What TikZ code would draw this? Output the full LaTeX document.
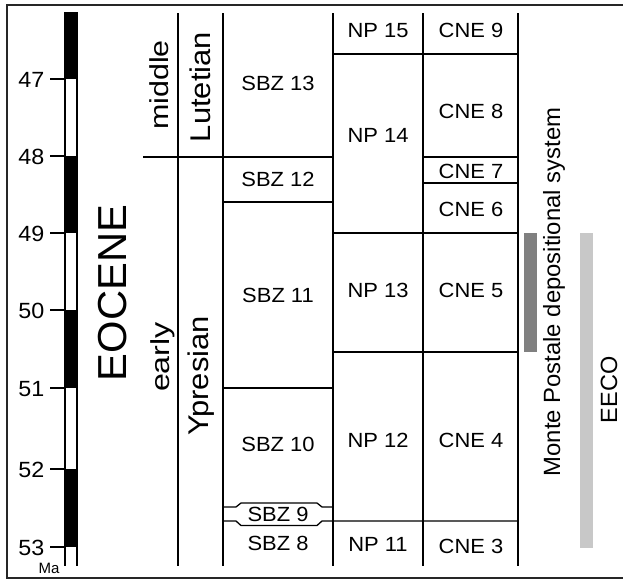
\documentclass[tikz,border=0pt]{standalone}
\usepackage{fontspec}
\setmainfont{Liberation Sans}
\definecolor{darkbar}{RGB}{128,128,128}
\definecolor{lightbar}{RGB}{200,200,200}
\newcommand\zstretch[2]{\scalebox{#1}[1]{#2}}
\begin{document}
\begin{tikzpicture}[x=1pt,y=-1pt,line width=1.3pt,
  zonelab/.style={font=\fontsize{20.5}{20.5}\selectfont,inner sep=0pt,anchor=base},
  numlab/.style={font=\fontsize{22}{22}\selectfont,inner sep=0pt,anchor=base east},
  rotlab/.style={rotate=90,inner sep=0pt,anchor=base},
  bigfont/.style={font=\fontsize{#1}{#1}\selectfont}]
\useasboundingbox (0,0) rectangle (623,581);
% frame
\draw[line width=1.8pt,black!85] (623,5) -- (7,5) -- (7,578) -- (623,578);
% polarity bar
\foreach \a/\b in {12/79,156/233,310/388,469/547} \fill (65,\a) rectangle (77,\b);
\draw (65,12) -- (65,566) (77,12) -- (77,566);
% ticks and ages
\foreach \yy/\t in {79/47,156/48,233/49,310/50,388/51,469/52,547/53}{
  \draw (50,\yy) -- (65,\yy);
  \node[numlab] (age\t) at (45,\yy+8) {\zstretch{1.06}{\t}};
}
\node[font=\fontsize{15}{15}\selectfont,inner sep=0pt,anchor=base] (ma) at (49,573) {Ma};
% column lines
\foreach \xx in {178,223,333,423,518} \draw (\xx,13) -- (\xx,566);
% horizontal boundaries
\draw (333,54) -- (518,54);
\draw (143,157) -- (333,157);
\draw (423,157) -- (518,157);
\draw (423,183) -- (518,183);
\draw (223,202) -- (333,202);
\draw (333,233) -- (518,233);
\draw (333,352) -- (518,352);
\draw (223,388) -- (333,388);
% SBZ 9 lozenge
\draw (223,507) -- (236,507) -- (241,503) -- (317,503) -- (322,507) -- (333,507);
\draw (223,521) -- (236,521) -- (241,525.5) -- (317,525.5) -- (322,521) -- (518,521);
% bars
\fill[darkbar] (524,233) rectangle (537,352);
\fill[lightbar] (580,233) rectangle (593,548);
% rotated labels
\node[rotlab,bigfont=40.5] (eocene) at (126,293) {\zstretch{1.03}{EOCENE}};
\node[rotlab,bigfont=26] (middle) at (168,85) {\zstretch{1.17}{middle}};
\node[rotlab,bigfont=26] (early) at (169,357) {\zstretch{1.24}{early}};
\node[rotlab,bigfont=28.5] (lutetian) at (210,87) {\zstretch{1.085}{Lutetian}};
\node[rotlab,bigfont=28.5] (ypresian) at (208,376) {\zstretch{1.085}{Ypresian}};
\node[rotlab,bigfont=23.5] (monte) at (560,292) {\zstretch{1.015}{Monte Postale depositional system}};
\node[rotlab,bigfont=23.5] (eeco) at (617,390) {EECO};
% zone labels (y = cap centre + 7.3)
\node[zonelab] (np15) at (378,37.3) {\zstretch{1.07}{NP 15}};
\node[zonelab] (cne9) at (471,37.3) {\zstretch{1.07}{CNE 9}};
\node[zonelab] (sbz13) at (278,90.8) {\zstretch{1.07}{SBZ 13}};
\node[zonelab] (cne8) at (471,118.3) {\zstretch{1.07}{CNE 8}};
\node[zonelab] (np14) at (378,142.3) {\zstretch{1.07}{NP 14}};
\node[zonelab] (sbz12) at (278,186.8) {\zstretch{1.07}{SBZ 12}};
\node[zonelab] (cne7) at (471,178.3) {\zstretch{1.07}{CNE 7}};
\node[zonelab] (cne6) at (471,216.3) {\zstretch{1.07}{CNE 6}};
\node[zonelab] (sbz11) at (278,302.8) {\zstretch{1.07}{SBZ 11}};
\node[zonelab] (np13) at (378,297.3) {\zstretch{1.07}{NP 13}};
\node[zonelab] (cne5) at (471,297.3) {\zstretch{1.07}{CNE 5}};
\node[zonelab] (sbz10) at (278,451.3) {\zstretch{1.07}{SBZ 10}};
\node[zonelab] (np12) at (378,447.3) {\zstretch{1.07}{NP 12}};
\node[zonelab] (cne4) at (471,447.3) {\zstretch{1.07}{CNE 4}};
\node[zonelab] (sbz9) at (278,521.3) {\zstretch{1.07}{SBZ 9}};
\node[zonelab] (sbz8) at (278,550.3) {\zstretch{1.07}{SBZ 8}};
\node[zonelab] (np11) at (378,551.3) {\zstretch{1.07}{NP 11}};
\node[zonelab] (cne3) at (471,553.3) {\zstretch{1.07}{CNE 3}};
\end{tikzpicture}
\end{document}
